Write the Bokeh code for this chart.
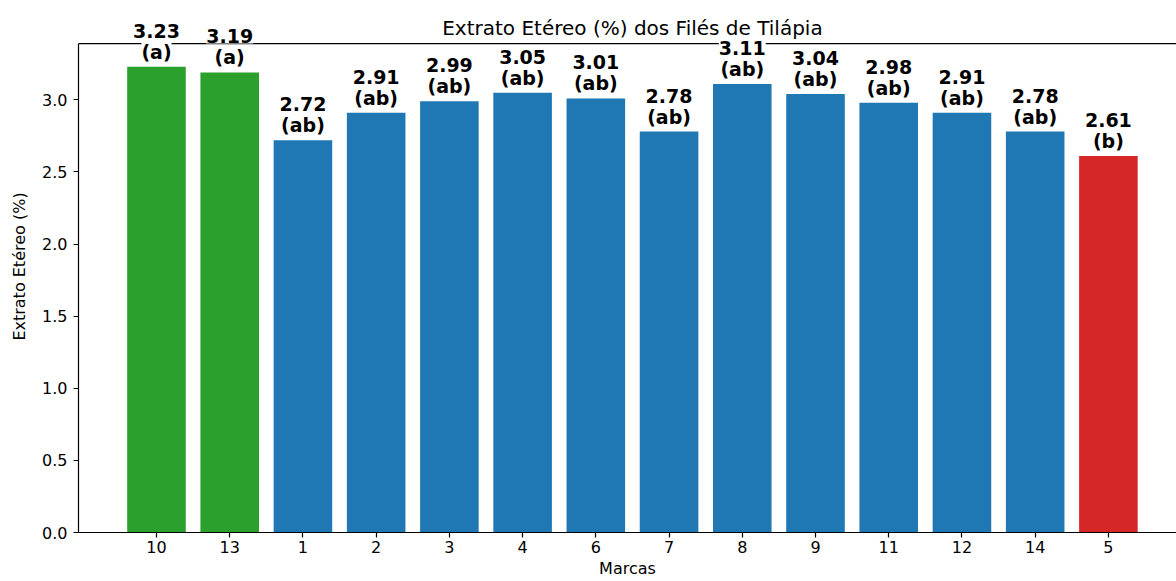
from bokeh.plotting import figure
from bokeh.models import ColumnDataSource, Range1d, FixedTicker, LabelSet, Label, Span
from bokeh.core.properties import value
from bokeh.embed import file_html
from bokeh.resources import INLINE

marcas = ["10", "13", "1", "2", "3", "4", "6", "7", "8", "9", "11", "12", "14", "5"]
extrato = [3.23, 3.19, 2.72, 2.91, 2.99, 3.05, 3.01, 2.78, 3.11, 3.04, 2.98, 2.91, 2.78, 2.61]
letras = ["a", "a", "ab", "ab", "ab", "ab", "ab", "ab", "ab", "ab", "ab", "ab", "ab", "b"]
cores = ["#2ca02c", "#2ca02c"] + ["#1f77b4"] * 11 + ["#d62728"]
titulo = "Extrato Etéreo (%) dos Filés de Tilápia"

pos = list(range(len(marcas)))
src = ColumnDataSource(dict(x=pos, top=extrato, cor=cores,
                            val=[f"{v:.2f}" for v in extrato],
                            let=[f"({l})" for l in letras]))

FONT = "DejaVu Sans"
ymax = 3.39          # top of the axes box
yview = 3.689        # visible range so labels above the box are not clipped

p = figure(width=1176, height=581, output_backend="svg", toolbar_location=None,
           x_range=Range1d(-1.065, 13.93), y_range=Range1d(0, yview),
           min_border_left=78, min_border_right=0, min_border_top=0, min_border_bottom=49)

p.vbar(x="x", top="top", width=0.8, bottom=0, fill_color="cor", line_color=None, source=src)

p.add_layout(Span(location=ymax, dimension="width", line_color="black", line_width=1.2, level="underlay"))

common = dict(source=src, x="x", y="top", text_align="center", text_baseline="alphabetic",
              text_font=value(FONT), text_font_size=value("19px"), text_font_style="bold",
              text_color="black", background_fill_color="white")
p.add_layout(LabelSet(text="let", y_offset=8, **common))
p.add_layout(LabelSet(text="val", y_offset=29, **common))

p.add_layout(Label(x=6.5, y=3.5, text=titulo, text_align="center", text_baseline="alphabetic",
                   text_font=FONT, text_font_size="20px", text_color="black"))

p.grid.visible = False
p.outline_line_color = None

p.xaxis.ticker = FixedTicker(ticks=pos)
p.xaxis.major_label_overrides = {i: m for i, m in zip(pos, marcas)}
p.yaxis.ticker = FixedTicker(ticks=[0, 0.5, 1.0, 1.5, 2.0, 2.5, 3.0])
p.yaxis.major_label_overrides = {0: "0.0", 0.5: "0.5", 1.0: "1.0", 1.5: "1.5", 2.0: "2.0", 2.5: "2.5", 3.0: "3.0"}
p.yaxis.bounds = (0, ymax)
p.xaxis.axis_label = "Marcas"
p.yaxis.axis_label = "Extrato Etéreo (%)"
for ax in (p.xaxis, p.yaxis):
    ax.axis_line_color = "black"
    ax.axis_line_width = 1.2
    ax.major_tick_line_color = "black"
    ax.major_tick_line_width = 1.2
    ax.major_tick_out = 5
    ax.major_tick_in = 0
    ax.minor_tick_line_color = None
    ax.major_label_text_font = FONT
    ax.major_label_text_font_size = "16px"
    ax.major_label_text_color = "#000000"
    ax.axis_label_text_font = FONT
    ax.axis_label_text_font_size = "16px"
    ax.axis_label_text_font_style = "normal"
    ax.axis_label_text_color = "#000000"
p.xaxis.major_label_standoff = 3
p.xaxis.axis_label_standoff = 3
p.yaxis.major_label_standoff = 6
p.yaxis.axis_label_standoff = 10

open("out.html", "w").write(file_html(p, INLINE))
